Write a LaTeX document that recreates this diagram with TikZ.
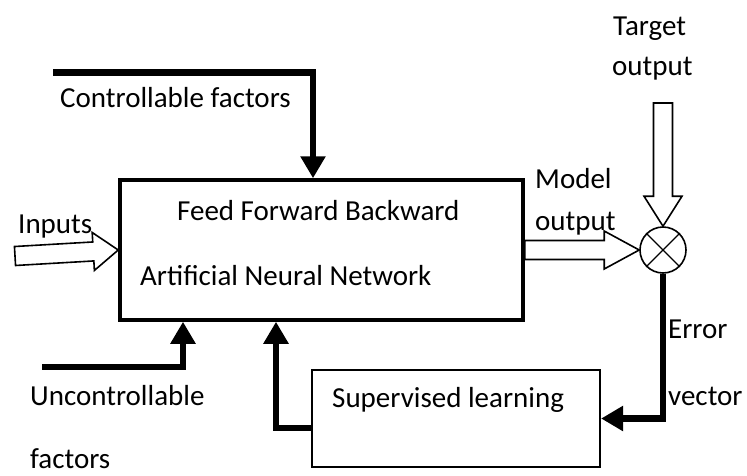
\documentclass[tikz,border=0pt]{standalone}
\usepackage{fontspec}
\setmainfont{Carlito}
\usetikzlibrary{arrows.meta,positioning,calc}

% hollow block arrow: #1 head length, #2 tail, #3 tip
\newcommand{\hollowarrow}[3]{%
  \coordinate (neck) at ($(#3)!#1!(#2)$);
  \draw[hollow] ($(#2)!9.5pt!90:(#3)$) -- ($(neck)!9.5pt!90:(#3)$)
    -- ($(neck)!19pt!90:(#3)$) -- (#3) -- ($(neck)!19pt!-90:(#3)$)
    -- ($(neck)!9.5pt!-90:(#3)$) -- ($(#2)!9.5pt!-90:(#3)$) -- cycle;}

\begin{document}
\begin{tikzpicture}[x=1pt, y=-1pt, font=\fontsize{29}{34}\selectfont,
    box/.style={draw, line width=3.5pt, inner sep=0pt},
    label/.style={anchor=base west, inner sep=0pt},
    heavy/.style={line width=6.5pt, line join=miter,
      -{Triangle[length=22pt, width=24pt]}},
    hollow/.style={draw, fill=white, line width=1.6pt, line join=miter}]
\useasboundingbox (0,0) rectangle (747,475);

% blocks
\node[box, minimum width=403pt, minimum height=140pt] (ann) at (321.5,250) {};
\node[box, line width=2.2pt, minimum width=288pt, minimum height=97pt] (sup) at (456,418.5) {};
\node[draw, circle, line width=1.6pt, minimum size=46pt, inner sep=0pt] (sum) at (663,250) {};
\draw[line width=1.2pt] (sum.north west) -- (sum.south east);
\draw[line width=1.2pt] (sum.north east) -- (sum.south west);

% texts
\node[label] (feed) at (177,220) {Feed Forward Backward};
\node[label] (art) at (140,285) {Artificial Neural Network};
\node[label] (learn) at (332,407) {Supervised learning};
\node[label] (ctrltext) at (60,107) {Controllable factors};
\node[label] (intext) at (18,233) {Inputs};
\node[label] (target) at (613,35) {Target};
\node[label] (targetb) at (612,75) {output};
\node[label] (model) at (535,188) {Model};
\node[label] (modelb) at (535,230) {output};
\node[label] (unctext) at (30,405) {Uncontrollable};
\node[label] (unctextb) at (30,468) {factors};
\node[label] (err) at (668,338) {Error};
\node[label] (errb) at (668,405) {vector};

% free ends
\coordinate (ctrl) at (53,72.5);
\coordinate (unc) at (42,367);
\coordinate (inp) at (15,256);
\coordinate (tgt) at (663,103);

% connectors
\draw[heavy] (ctrl) -| ([xshift=-8.5pt]ann.north);
\draw[heavy] (unc) -| ([xshift=-138.5pt]ann.south);
\draw[heavy] ([yshift=-9.5pt]sup.west) -| ([xshift=-45.5pt]ann.south);
\draw[heavy] (sum.south) |- (sup.east);

\hollowarrow{25pt}{inp}{ann.west}
\hollowarrow{35pt}{ann.east}{sum.west}
\hollowarrow{30pt}{tgt}{sum.north}
\end{tikzpicture}
\end{document}
